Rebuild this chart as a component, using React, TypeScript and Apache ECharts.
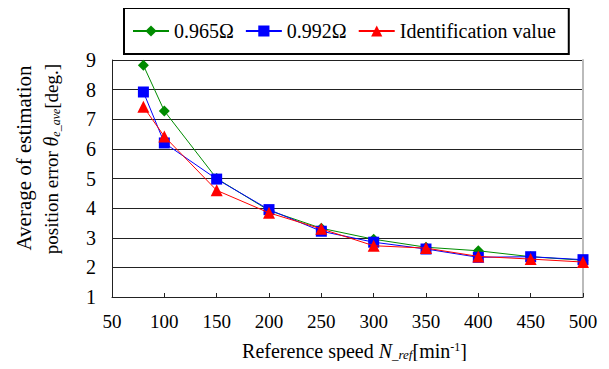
import React, { useEffect, useRef } from "react";
import * as echarts from "echarts";

const speeds = [80, 100, 150, 200, 250, 300, 350, 400, 450, 500];
const r0965 = [8.82, 7.28, 5.0, 3.92, 3.32, 2.95, 2.68, 2.56, 2.36, 2.24];
const r0992 = [7.92, 6.2, 4.98, 3.95, 3.22, 2.85, 2.62, 2.34, 2.36, 2.26];
const ident = [7.42, 6.42, 4.6, 3.84, 3.3, 2.73, 2.65, 2.37, 2.28, 2.18];
const seriesNames = ["0.965Ω", "0.992Ω", "Identification value"];
const xTicks = { min: 50, max: 500, interval: 50 };
const yTicks = { min: 1, max: 9, interval: 1 };
const yTitle1 = "Average of estimation";
const yTitle2 = "{t|position error }{i|θ}{s|e_ave}{t|[deg.]}";
const xTitle = "{t|Reference speed }{i|N}{s|_ref}{t|[min}{p|-1}{t|]}";

const FONT = "Liberation Serif";

export default function App() {
  const ref = useRef<HTMLDivElement>(null);
  useEffect(() => {
    if (!ref.current) return;
    const chart = echarts.init(ref.current, undefined, { renderer: "svg" });
    const mk = (vals: number[]) => speeds.map((s, i) => [s, vals[i]]);
    const richY = {
      t: { fontFamily: FONT, fontSize: 19, fill: "#000", color: "#000" },
      i: { fontFamily: FONT, fontSize: 20, fontStyle: "italic", fill: "#000", color: "#000" },
      s: { fontFamily: FONT, fontSize: 12, fontStyle: "italic", fill: "#000", color: "#000", padding: [9, 0, 0, 0] },
    };
    chart.setOption({
      animation: false,
      textStyle: { fontFamily: FONT, color: "#000" },
      grid: { left: 112, right: 26, top: 60, bottom: 72 },
      legend: {
        left: 124,
        top: 8,
        padding: [13, 13, 13, 8],
        borderColor: "#000",
        borderWidth: 2,
        itemWidth: 36,
        itemHeight: 14,
        itemGap: 11,
        textStyle: { fontFamily: FONT, fontSize: 20, color: "#000" },
        data: seriesNames,
      },
      graphic: [
        {
          type: "text",
          x: 24,
          y: 158,
          rotation: Math.PI / 2,
          style: {
            text: yTitle1,
            fontFamily: FONT,
            fontSize: 21,
            fill: "#000",
            align: "center",
            verticalAlign: "middle",
          },
        },
        {
          type: "text",
          x: 51,
          y: 159,
          rotation: Math.PI / 2,
          style: {
            text: yTitle2,
            rich: richY,
            fontFamily: FONT,
            fontSize: 19,
            fill: "#000",
            align: "center",
            verticalAlign: "middle",
          },
        },
      ],
      xAxis: {
        type: "value",
        min: xTicks.min,
        max: xTicks.max,
        interval: xTicks.interval,
        axisLine: { lineStyle: { color: "#222", width: 1 } },
        axisTick: { inside: true, length: 4, lineStyle: { color: "#222" } },
        splitLine: { show: false },
        axisLabel: { fontFamily: FONT, fontSize: 19, color: "#000", margin: 15 },
        name: xTitle,
        nameLocation: "middle",
        nameGap: 43,
        nameTextStyle: {
          fontFamily: FONT,
          padding: [0, 0, 0, 14],
          rich: {
            t: { fontFamily: FONT, fontSize: 20, color: "#000" },
            i: { fontFamily: FONT, fontSize: 20, fontStyle: "italic", color: "#000" },
            s: { fontFamily: FONT, fontSize: 13, fontStyle: "italic", color: "#000", padding: [8, 0, 0, 0] },
            p: { fontFamily: FONT, fontSize: 12, color: "#000", padding: [0, 0, 8, 0] },
          },
        },
      },
      yAxis: [
        {
          type: "value",
          min: yTicks.min,
          max: yTicks.max,
          interval: yTicks.interval,
          axisLine: { show: true, lineStyle: { color: "#222", width: 1 } },
          axisTick: { show: false },
          splitLine: { show: true, lineStyle: { color: "#222", width: 1 } },
          axisLabel: { fontFamily: FONT, fontSize: 20, color: "#000", margin: 16 },
        },
        {
          type: "value",
          position: "right",
          min: yTicks.min,
          max: yTicks.max,
          interval: yTicks.interval,
          axisLine: { show: true, lineStyle: { color: "#bbb", width: 2 } },
          axisTick: { show: false },
          axisLabel: { show: false },
          splitLine: { show: false },
        },
      ],
      series: [
        {
          name: seriesNames[0],
          type: "line",
          data: mk(r0965),
          symbol: "diamond",
          symbolSize: 11,
          itemStyle: { color: "#008c00" },
          lineStyle: { color: "#008c00", width: 1 },
          z: 2,
        },
        {
          name: seriesNames[1],
          type: "line",
          data: mk(r0992),
          symbol: "rect",
          symbolSize: 11,
          itemStyle: { color: "#0000ff" },
          lineStyle: { color: "#0000ff", width: 1 },
          z: 3,
        },
        {
          name: seriesNames[2],
          type: "line",
          data: mk(ident),
          symbol: "triangle",
          symbolSize: 12,
          itemStyle: { color: "#ff0000" },
          lineStyle: { color: "#ff0000", width: 1 },
          z: 4,
        },
      ],
    });
    return () => chart.dispose();
  }, []);
  return <div ref={ref} style={{ width: 609, height: 369, margin: -8 }} />;
}
